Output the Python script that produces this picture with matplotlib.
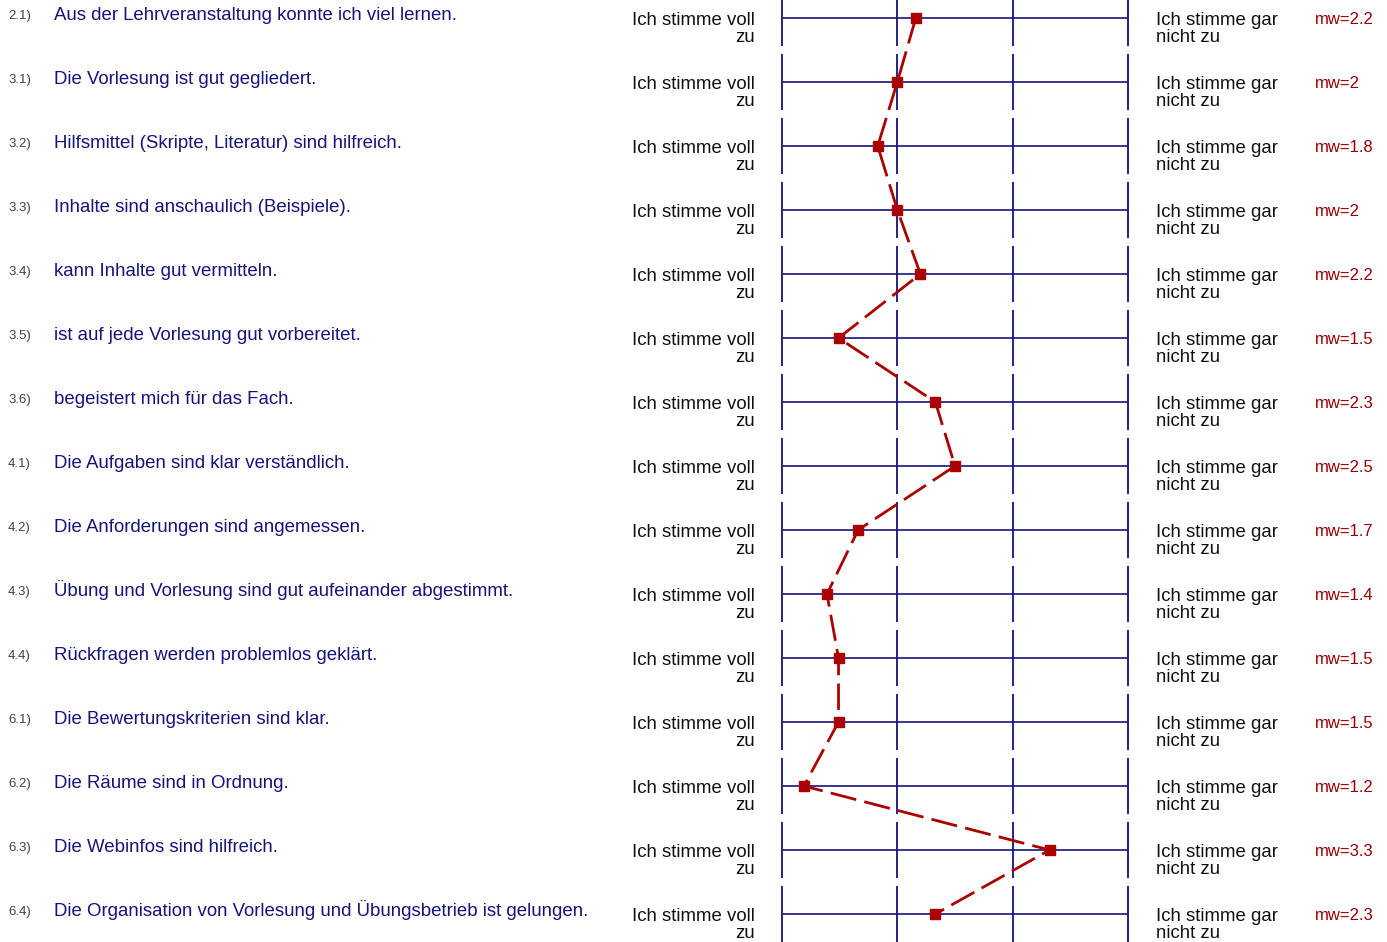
import numpy as np
import matplotlib
matplotlib.use("Agg")
import matplotlib.pyplot as plt
import matplotlib.transforms as mtransforms

plt.rcParams["font.family"] = ["Liberation Sans", "DejaVu Sans"]

# item numbers and questions
numbers = ["2.1)", "3.1)", "3.2)", "3.3)", "3.4)", "3.5)", "3.6)", "4.1)",
           "4.2)", "4.3)", "4.4)", "6.1)", "6.2)", "6.3)", "6.4)"]
questions = [
    "Aus der Lehrveranstaltung konnte ich viel lernen.",
    "Die Vorlesung ist gut gegliedert.",
    "Hilfsmittel (Skripte, Literatur) sind hilfreich.",
    "Inhalte sind anschaulich (Beispiele).",
    "kann Inhalte gut vermitteln.",
    "ist auf jede Vorlesung gut vorbereitet.",
    "begeistert mich für das Fach.",
    "Die Aufgaben sind klar verständlich.",
    "Die Anforderungen sind angemessen.",
    "Übung und Vorlesung sind gut aufeinander abgestimmt.",
    "Rückfragen werden problemlos geklärt.",
    "Die Bewertungskriterien sind klar.",
    "Die Räume sind in Ordnung.",
    "Die Webinfos sind hilfreich.",
    "Die Organisation von Vorlesung und Übungsbetrieb ist gelungen.",
]
# mean values (position of the markers) and printed means
means = [2.16, 2.0, 1.83, 2.0, 2.2, 1.49, 2.33, 2.5, 1.66, 1.39, 1.49, 1.49, 1.19, 3.32, 2.33]
mw_labels = ["2.2", "2", "1.8", "2", "2.2", "1.5", "2.3", "2.5", "1.7", "1.4",
             "1.5", "1.5", "1.2", "3.3", "2.3"]
scale_ticks = [1, 2, 3, 4]
left_label = ("Ich stimme voll", "zu")
right_label = ("Ich stimme gar", "nicht zu")

W, H = 1387, 942
fig = plt.figure(figsize=(W / 100, H / 100), dpi=100)
ax = fig.add_axes([0, 0, 1, 1])
ax.set_axis_off()

# map scale 1..4 onto pixel 782..1128, rows 64 px apart starting at y=18
px_unit = (1128 - 782) / 3.0
ax.set_xlim(1 - 782 / px_unit, 1 + (W - 782) / px_unit)
ax.set_ylim((H - 18) / 64.0, -18 / 64.0)

n = len(questions)
rows = np.arange(n)
navy = "#14147a"
red = "#aa0000"

# grid per row
for r in rows:
    ax.hlines(r, scale_ticks[0], scale_ticks[-1], color=navy, lw=1.2)
    ax.vlines(scale_ticks, r - 0.4375, r + 0.4375, color=navy, lw=1.3)

# profile line
ax.plot(means, rows, color=red, lw=2.0, dashes=(9.5, 3), marker="s",
        markersize=6.8, markerfacecolor=red, markeredgecolor=red, zorder=5)

# text columns: x in figure pixels, y in rows
trans = mtransforms.blended_transform_factory(
    mtransforms.Affine2D().scale(1.0 / W, 1.0) + fig.transFigure, ax.transData)
py = 1 / 64.0
for r in rows:
    ax.text(8, r + 1 * py, numbers[r], transform=trans, fontsize=9.5,
            color="#444444", va="baseline", ha="left")
    ax.text(54, r + 2 * py, questions[r], transform=trans, fontsize=13.4,
            color=navy, va="baseline", ha="left")
    ax.text(755, r + 7 * py, left_label[0], transform=trans, fontsize=13.4,
            color="#111111", va="baseline", ha="right")
    ax.text(755, r + 24 * py, left_label[1], transform=trans, fontsize=13.4,
            color="#111111", va="baseline", ha="right")
    ax.text(1156, r + 7 * py, right_label[0], transform=trans, fontsize=13.4,
            color="#111111", va="baseline", ha="left")
    ax.text(1156, r + 24 * py, right_label[1], transform=trans, fontsize=13.4,
            color="#111111", va="baseline", ha="left")
    ax.text(1315, r + 6 * py, "mw=" + mw_labels[r], transform=trans,
            fontsize=12, color="#990000", va="baseline", ha="left")

fig.savefig("out.png", dpi=100)
